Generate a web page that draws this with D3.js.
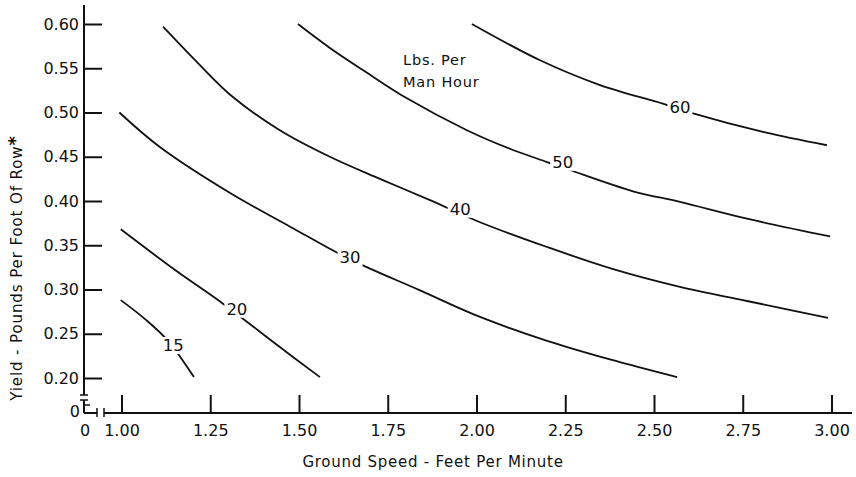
<!DOCTYPE html>
<html>
<head>
<meta charset="utf-8">
<script src="https://cdn.jsdelivr.net/npm/d3@7"></script>
<style>
  html, body { margin: 0; padding: 0; background: #fff; }
  svg { display: block; }
  text { font-family: "DejaVu Sans", sans-serif; fill: #111; }
</style>
</head>
<body>
<svg id="chart" width="856" height="477"></svg>
<script>
// ---- data ----
const speedTicks = [1.00, 1.25, 1.50, 1.75, 2.00, 2.25, 2.50, 2.75, 3.00];
const yieldTicks = [0.20, 0.25, 0.30, 0.35, 0.40, 0.45, 0.50, 0.55, 0.60];
const levels = [15, 20, 30, 40, 50, 60];

const curve15 = [[0.998, 0.288], [1.068, 0.266], [1.131, 0.242], [1.204, 0.201]];
const curve20 = [[0.998, 0.368], [1.151, 0.322], [1.286, 0.284], [1.446, 0.235], [1.559, 0.201]];
const curve30 = [[0.994, 0.500], [1.108, 0.461], [1.306, 0.409], [1.475, 0.371], [1.644, 0.334], [1.841, 0.299], [2.010, 0.269], [2.199, 0.242], [2.376, 0.221], [2.565, 0.201]];
const curve40 = [[1.117, 0.597], [1.210, 0.558], [1.306, 0.520], [1.446, 0.480], [1.587, 0.450], [1.728, 0.425], [1.869, 0.401], [2.010, 0.376], [2.199, 0.348], [2.385, 0.323], [2.573, 0.303], [2.762, 0.287], [2.990, 0.268]];
const curve50 = [[1.497, 0.600], [1.587, 0.573], [1.680, 0.548], [1.804, 0.516], [1.973, 0.480], [2.094, 0.459], [2.199, 0.444], [2.263, 0.435], [2.441, 0.411], [2.573, 0.399], [2.762, 0.380], [2.996, 0.360]];
const curve60 = [[1.987, 0.600], [2.179, 0.559], [2.348, 0.531], [2.525, 0.510], [2.610, 0.499], [2.807, 0.478], [2.987, 0.463]];
const curves = [curve15, curve20, curve30, curve40, curve50, curve60];

const labelSpeed = [1.146, 1.325, 1.644, 1.954, 2.243, 2.573];
const labelYield = [0.237, 0.278, 0.336, 0.391, 0.444, 0.506];

const xTitle = "Ground Speed - Feet Per Minute";
const yTitle = "Yield - Pounds Per Foot Of Row";
const noteLines = ["Lbs. Per", "Man Hour"];

// ---- drawing ----
const svg = d3.select("#chart");
const x = d3.scaleLinear().domain([1, 3]).range([121.5, 831.5]);
const y = d3.scaleLinear().domain([0.2, 0.6]).range([378, 24]);
const axisX0 = 84, axisY0 = 413;

// Y axis
const yAxis = d3.axisLeft(y).tickValues(yieldTicks).tickFormat(d3.format(".2f"))
  .tickSizeInner(-18).tickSizeOuter(0).tickPadding(5);
const gy = svg.append("g").attr("transform", `translate(${axisX0},0)`).call(yAxis);
gy.select(".domain").remove();
gy.selectAll(".tick line").attr("stroke", "#111").attr("stroke-width", 2);
gy.selectAll(".tick text").attr("font-size", 16).attr("font-family", "DejaVu Sans").attr("fill", "#111");

// X axis
const xAxis = d3.axisBottom(x).tickValues(speedTicks).tickFormat(d3.format(".2f"))
  .tickSizeInner(-18).tickSizeOuter(0).tickPadding(12);
const gx = svg.append("g").attr("transform", `translate(0,${axisY0})`).call(xAxis);
gx.select(".domain").remove();
gx.selectAll(".tick line").attr("stroke", "#111").attr("stroke-width", 2);
gx.selectAll(".tick text").attr("font-size", 16).attr("font-family", "DejaVu Sans").attr("fill", "#111");

// axis lines with breaks
const ax = svg.append("g").attr("stroke", "#111").attr("stroke-width", 2).attr("fill", "none");
ax.append("line").attr("x1", axisX0).attr("x2", axisX0).attr("y1", 5).attr("y2", 395);
ax.append("line").attr("x1", axisX0 - 4).attr("x2", axisX0 + 4).attr("y1", 395).attr("y2", 395).attr("stroke-width", 1.5);
ax.append("line").attr("x1", axisX0 - 4).attr("x2", axisX0 + 4).attr("y1", 400).attr("y2", 400).attr("stroke-width", 1.5);
ax.append("line").attr("x1", axisX0).attr("x2", axisX0).attr("y1", 400).attr("y2", axisY0);
ax.append("line").attr("x1", axisX0).attr("x2", axisX0 + 6).attr("y1", 405).attr("y2", 405).attr("stroke-width", 1.5);
ax.append("line").attr("x1", axisX0).attr("x2", 97).attr("y1", axisY0).attr("y2", axisY0);
ax.append("line").attr("x1", 97).attr("x2", 97).attr("y1", axisY0 - 5).attr("y2", axisY0 + 4).attr("stroke-width", 1.5);
ax.append("line").attr("x1", 104).attr("x2", 104).attr("y1", axisY0 - 5).attr("y2", axisY0 + 4).attr("stroke-width", 1.5);
ax.append("line").attr("x1", 104).attr("x2", 852).attr("y1", axisY0).attr("y2", axisY0);

// zero labels
svg.append("text").attr("x", 80).attr("y", 411).attr("dy", "0.35em").attr("text-anchor", "end")
  .attr("font-size", 16).text("0");
svg.append("text").attr("x", 85).attr("y", 430).attr("dy", "0.35em").attr("text-anchor", "middle")
  .attr("font-size", 16).text("0");

// curves
const line = d3.line().x(d => x(d[0])).y(d => y(d[1])).curve(d3.curveCatmullRom.alpha(0.5));
svg.append("g").selectAll("path").data(curves).join("path")
  .attr("d", line).attr("fill", "none").attr("stroke", "#111").attr("stroke-width", 1.8);

// curve labels with gaps
const lg = svg.append("g");
levels.forEach((lv, i) => {
  const t = lg.append("text").attr("x", x(labelSpeed[i])).attr("y", y(labelYield[i]))
    .attr("dy", "0.35em").attr("text-anchor", "middle").attr("font-size", 16.5).text(lv);
  const b = t.node().getBBox();
  lg.insert("rect", "text").attr("x", b.x - 2).attr("y", b.y + 1).attr("width", b.width + 4)
    .attr("height", b.height - 2).attr("fill", "#fff");
});

// note
svg.append("text").attr("x", 403).attr("y", 60).attr("dy", "0.35em").attr("font-size", 14.5)
  .attr("letter-spacing", 0.8).text(noteLines[0]);
svg.append("text").attr("x", 403).attr("y", 82).attr("dy", "0.35em").attr("font-size", 14.5)
  .attr("letter-spacing", 0.8).text(noteLines[1]);

// axis titles
svg.append("text").attr("x", 433).attr("y", 462).attr("dy", "0.35em").attr("text-anchor", "middle")
  .attr("font-size", 15).attr("letter-spacing", 0.75).text(xTitle);
const yt = svg.append("text").attr("transform", "translate(22,268) rotate(-90)")
  .attr("text-anchor", "middle").attr("font-size", 15).attr("letter-spacing", 0.9);
yt.append("tspan").text(yTitle);
yt.append("tspan").attr("font-size", 18).attr("dy", -1).attr("font-weight", "bold").text("*");
</script>
</body>
</html>
